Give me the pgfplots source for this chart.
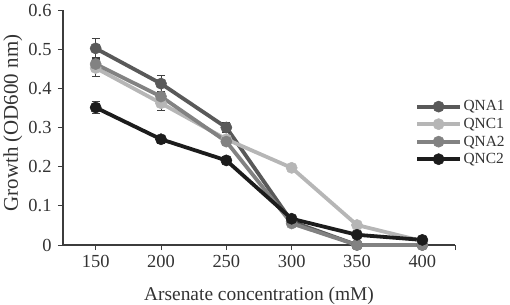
\documentclass[border=0pt]{standalone}
\usepackage{fontspec}
\setmainfont{Liberation Serif}
\usepackage{pgfplots}
\pgfplotsset{compat=1.18}
\definecolor{cQNAa}{RGB}{89,89,89}
\definecolor{cQNCa}{RGB}{182,182,182}
\definecolor{cQNAb}{RGB}{130,130,130}
\definecolor{cQNCb}{RGB}{28,28,28}
\definecolor{axisgray}{RGB}{60,60,60}
\begin{document}
\begin{tikzpicture}
\path[use as bounding box] (0,0) rectangle (510bp,305bp);
\begin{axis}[
  at={(63bp,60bp)}, anchor=south west,
  scale only axis, width=392bp, height=235bp,
  xmin=125, xmax=425, ymin=0, ymax=0.6,
  clip=false,
  axis x line*=bottom, axis y line*=left,
  xtick={150,200,250,300,350,400},
  ytick={0,0.1,0.2,0.3,0.4,0.5,0.6},
  yticklabels={0,0.1,0.2,0.3,0.4,0.5,0.6},
  extra x ticks={425}, extra x tick labels={},
  tick align=outside, major tick length=5bp,
  axis line style={color=axisgray, line width=1.1bp, -},
  tick style={color=axisgray, line width=1bp},
  tick label style={font=\fontsize{18.5}{20}\selectfont, color=black!80},
  /pgf/number format/assume math mode=true,
  xticklabel style={yshift=-2bp},
  yticklabel style={xshift=-3bp},
  xlabel={Arsenate concentration (mM)},
  xlabel style={at={(axis description cs:0.5,-0.2383)}, anchor=base, font=\fontsize{19.5}{21}\selectfont, color=black!80},
  ylabel={Growth (OD600 nm)},
  ylabel style={at={(axis description cs:-0.1148,0.519)}, anchor=base, rotate=0, font=\fontsize{21}{23}\selectfont, color=black!80},
  legend style={at={(axis description cs:0.898,0.621)}, anchor=north west, draw=none, fill=none,
    font=\fontsize{15.5}{17}\selectfont, text=black!80, inner sep=0pt, row sep=2.8bp,
    nodes={inner sep=1.5bp}},
  legend cell align=left,
  legend image code/.code={\draw[mark repeat=2,mark phase=2] plot coordinates {(0bp,0bp) (21.5bp,0bp) (43bp,0bp)};},
  every axis plot/.append style={line width=3.8bp, mark=*, mark size=5.6bp,
    error bars/error bar style={line width=0.8bp, color=black!75},
    error bars/error mark options={rotate=90, mark size=4bp, line width=0.8bp, color=black!75}},
]
\addplot[color=cQNAa, mark options={fill=cQNAa, draw=cQNAa, line width=0.5bp}, error bars/.cd, y dir=both, y explicit]
  coordinates {(150,0.502) +- (0,0.026) (200,0.412) +- (0,0.02) (250,0.300) +- (0,0.012) (300,0.060) +- (0,0.005) (350,0.0) +- (0,0) (400,0.0) +- (0,0)};
\addlegendentry{QNA1}
\addplot[color=cQNCa, mark options={fill=cQNCa, draw=cQNCa, line width=0.5bp}, error bars/.cd, y dir=both, y explicit]
  coordinates {(150,0.452) +- (0,0.022) (200,0.362) +- (0,0.018) (250,0.270) +- (0,0.008) (300,0.197) +- (0,0.004) (350,0.051) +- (0,0.003) (400,0.010) +- (0,0.002)};
\addlegendentry{QNC1}
\addplot[color=cQNAb, mark options={fill=cQNAb, draw=cQNAb, line width=0.5bp}, error bars/.cd, y dir=both, y explicit]
  coordinates {(150,0.462) +- (0,0.016) (200,0.379) +- (0,0.01) (250,0.264) +- (0,0.008) (300,0.055) +- (0,0.004) (350,0.0) +- (0,0) (400,0.0) +- (0,0)};
\addlegendentry{QNA2}
\addplot[color=cQNCb, mark options={fill=cQNCb, draw=cQNCb, line width=0.5bp}, error bars/.cd, y dir=both, y explicit]
  coordinates {(150,0.351) +- (0,0.015) (200,0.270) +- (0,0.01) (250,0.216) +- (0,0.006) (300,0.067) +- (0,0.004) (350,0.026) +- (0,0.003) (400,0.013) +- (0,0.002)};
\addlegendentry{QNC2}
\end{axis}
\end{tikzpicture}
\end{document}
